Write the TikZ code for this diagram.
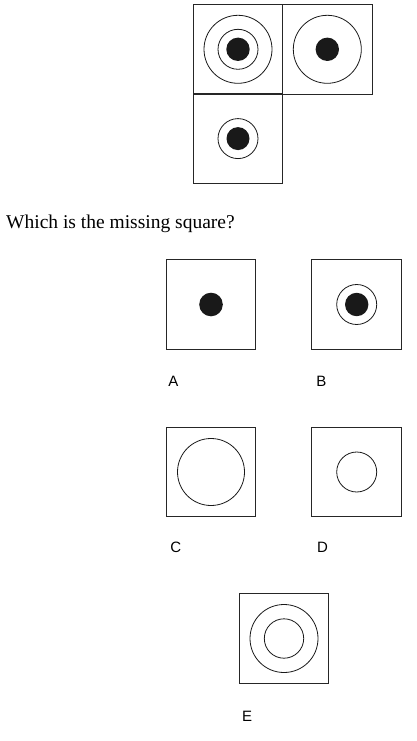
\documentclass[tikz,border=0pt]{standalone}
\usepackage{fontspec}
\setmainfont{Liberation Serif}
\newfontfamily\labelfont{Liberation Sans}
\begin{document}
\begin{tikzpicture}[x=1pt,y=-1pt,
  sq/.style={draw=black!85,line width=1pt,rectangle,inner sep=0pt,minimum width=89.5pt,minimum height=89.5pt},
  ring/.style={draw=black!90,line width=0.8pt},
  dot/.style={fill=black!90},
  lbl/.style={font=\labelfont\fontsize{15}{18}\selectfont,inner sep=0pt}]
\useasboundingbox (0,0) rectangle (416,741);
% top grid
\node[sq] (t1) at (238,49.3) {};
\node[sq] (t2) at (327.3,49.3) {};
\node[sq] (t3) at (238,138.6) {};
\draw[ring] (t1.center) circle (34) (t1.center) circle (20);
\fill[dot] (t1.center) circle (11.7);
\draw[ring] (t2.center) circle (34);
\fill[dot] (t2.center) circle (11.7);
\draw[ring] (t3.center) circle (20);
\fill[dot] (t3.center) circle (11.5);
% question
\node[anchor=base west,inner sep=0pt,font=\fontsize{19.5}{22}\selectfont] (q) at (6,228.5) {Which is the missing square?};
% options
\node[sq] (a) at (211,304.5) {};
\fill[dot] (a.center) circle (11.8);
\node[sq] (b) at (356.7,304.5) {};
\draw[ring] (b.center) circle (20);
\fill[dot] (b.center) circle (11.7);
\node[sq] (c) at (211,472) {};
\draw[ring] (c.center) circle (33.5);
\node[sq] (d) at (356.7,472) {};
\draw[ring] (d.center) circle (20);
\node[sq] (e) at (284,638.5) {};
\draw[ring] (e.center) circle (34) (e.center) circle (19.7);
% labels
\node[lbl] (la) at (173.5,381.5) {A};
\node[lbl] (lb) at (321.3,381.5) {B};
\node[lbl] (lc) at (175.8,547.5) {C};
\node[lbl] (ld) at (322.5,547.5) {D};
\node[lbl] (le) at (247,716) {E};
\end{tikzpicture}
\end{document}
